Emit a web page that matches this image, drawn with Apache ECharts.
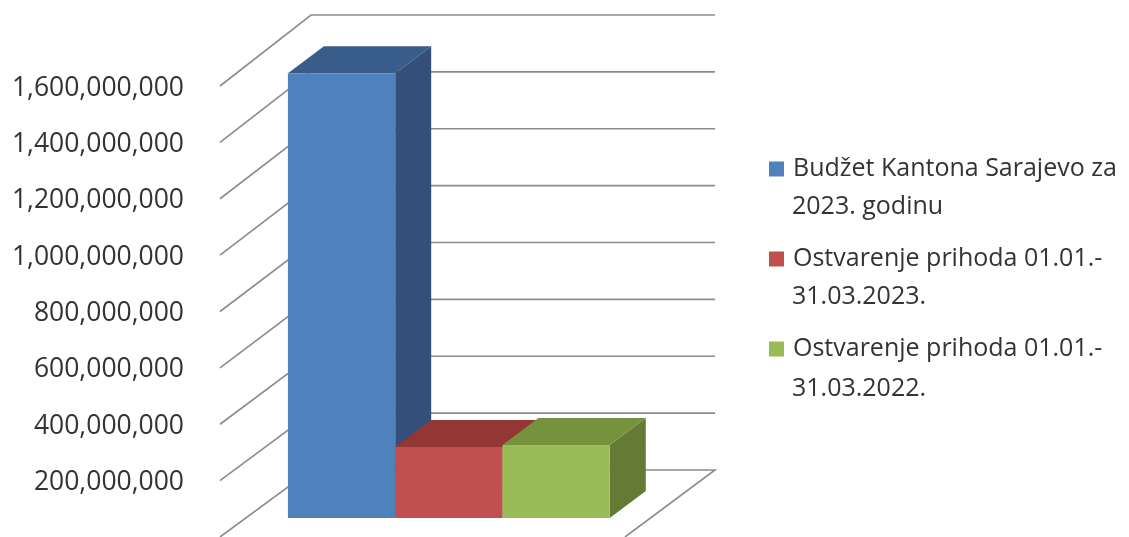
<!DOCTYPE html>
<html><head><meta charset="utf-8">
<style>html,body{margin:0;padding:0;background:#fff;overflow:hidden}#c{width:1129px;height:537px}</style>
<script src="https://cdn.jsdelivr.net/npm/echarts@6/dist/echarts.min.js"></script>
</head><body><div id="c"></div>
<script>
var seriesNames = ['Budžet Kantona Sarajevo za 2023. godinu','Ostvarenje prihoda 01.01.-31.03.2023.','Ostvarenje prihoda 01.01.-31.03.2022.'];
var legendLine1 = ['Budžet Kantona Sarajevo za','Ostvarenje prihoda 01.01.-','Ostvarenje prihoda 01.01.-'];
var legendLine2 = ['2023. godinu','31.03.2023.','31.03.2022.'];
var values = [1578000000, 252000000, 259000000];
var ticks = [0,200000000,400000000,600000000,800000000,1000000000,1200000000,1400000000,1600000000];
var frontColors = ['#4f81bd','#c0504d','#9bbb59'];
var topColors = ['#385d8a','#943634','#76923c'];
var sideColors = ['#334f7a','#7d2e2c','#647a35'];
var FONT = '"Open Sans"';
var INSET = [25,-19], DEPTH = [36,-27], XMIN = -0.9, XMAX = 2.875;
var LINE = {stroke:'#8c8c8c', lineWidth:1.6};

function poly(points, fill){ return {type:'polygon', shape:{points:points}, style:{fill:fill}}; }
function add(p,d){ return [p[0]+d[0],p[1]+d[1]]; }

function renderGrid(params, api){
  var v = api.value(0);
  var fl = api.coord([XMIN,v]), fr = api.coord([XMAX,v]);
  var dy = -71 + 4*(1 - v/1600000000);
  var bl = add(fl,[91,dy]), br = add(fr,[90,dy]);
  var pts = v===0 ? [fl,bl,br,fr] : [fl,bl,br];
  return {type:'polyline', shape:{points:pts}, style:{stroke:LINE.stroke,lineWidth:LINE.lineWidth,fill:null}};
}
function renderBar(i){
  return function(params, api){
    var idx = api.value(0), v = api.value(1);
    var a = add(api.coord([idx-0.5,0]),INSET), b = add(api.coord([idx+0.5,0]),INSET);
    var c = add(api.coord([idx+0.5,v]),INSET), d = add(api.coord([idx-0.5,v]),INSET);
    return {type:'group', children:[
      poly([b,c,add(c,DEPTH),add(b,DEPTH)], sideColors[i]),
      poly([d,c,add(c,DEPTH),add(d,DEPTH)], topColors[i]),
      poly([a,b,c,d], frontColors[i])
    ]};
  };
}

var series = [{
  type:'custom', name:'grid', silent:true, clip:false, z:1,
  data:ticks.map(function(t){return [t];}), encode:{y:0},
  renderItem:renderGrid
}];
[0,1,2].forEach(function(i){
  series.push({type:'custom', name:seriesNames[i], clip:false, z:2+i,
    itemStyle:{color:frontColors[i]},
    data:[[i,values[i]]], encode:{x:0,y:1}, renderItem:renderBar(i)});
});

var legendY = [168,258,348], line2Y = [205,295,387];
var chart = echarts.init(document.getElementById('c'),null,{renderer:'canvas'});
chart.setOption({
  animation:false,
  backgroundColor:'#fff',
  grid:{left:220,top:86,width:405,height:451,containLabel:false,outerBoundsMode:'none'},
  xAxis:{type:'value',min:XMIN,max:XMAX,show:false},
  yAxis:{type:'value',min:0,max:1600000000,interval:200000000,
    axisLine:{show:false},axisTick:{show:false},splitLine:{show:false},
    axisLabel:{margin:36,showMinLabel:false,color:'#333',fontFamily:FONT,fontSize:26.5,verticalAlign:'top',lineHeight:4,
      formatter:function(v){return v===0?'':v.toLocaleString('en-US');}}},
  legend:seriesNames.map(function(n,i){return {
    data:[n], left:769, top:legendY[i]-16, padding:0, itemWidth:15, itemHeight:15, itemGap:0,
    icon:'rect', selectedMode:false,
    formatter:function(){return legendLine1[i];},
    textStyle:{fontFamily:FONT,fontSize:25,lineHeight:34,color:'#333',padding:[0,0,0,4]}
  };}),
  graphic:legendLine2.map(function(t,i){return {
    type:'text', left:792, top:line2Y[i]-15,
    style:{text:t,fontFamily:FONT,fontSize:25,lineHeight:34,fill:'#333'}
  };}),
  series:series
});
</script></body></html>
